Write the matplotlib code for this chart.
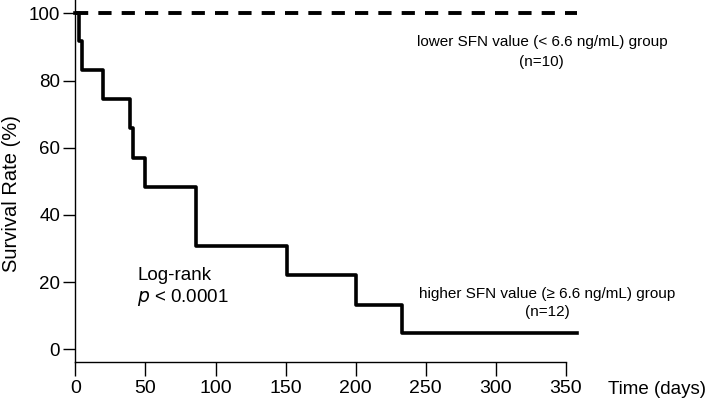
import matplotlib
matplotlib.use("Agg")
import matplotlib.pyplot as plt

plt.rcParams['font.family'] = ['Liberation Sans', 'DejaVu Sans']

# higher SFN group (n=12): step times (days) and survival after each step (%)
high_times = [0, 2.5, 4.5, 20, 39, 41, 50, 86, 151, 200, 233, 358]
high_surv = [100, 91.7, 83.3, 74.5, 65.8, 57.0, 48.3, 30.8, 22.0, 13.3, 4.8, 4.8]

# lower SFN group (n=10): no events
low_times = [0, 358]
low_surv = [100, 100]

xticks = [0, 50, 100, 150, 200, 250, 300, 350]
yticks = [0, 20, 40, 60, 80, 100]

fig = plt.figure(figsize=(7.08, 3.99), dpi=100)
ax = fig.add_axes([0.1066, 0.0927, 0.722, 0.9073])

ax.step(low_times, low_surv, where='post', color='black', lw=2.8,
        linestyle=(0, (3.4, 2.6)), solid_capstyle='butt', clip_on=False)
ax.step(high_times, high_surv, where='post', color='black', lw=2.6,
        clip_on=False)

ax.set_xlim(0, 365)
ax.set_ylim(-3.8, 104)
ax.spines['top'].set_visible(False)
ax.spines['right'].set_visible(False)
ax.spines['bottom'].set_bounds(0, 350)
for s in ['left', 'bottom']:
    ax.spines[s].set_linewidth(1.0)

ax.set_xticks(xticks)
ax.set_yticks(yticks)
ax.tick_params(axis='x', length=10, width=1.0, labelsize=14, pad=3)
ax.tick_params(axis='y', length=9, width=1.0, labelsize=13.5, pad=2)

fig.text(0.016, 0.514, 'Survival Rate (%)', fontsize=14.5, rotation=90,
         ha='center', va='center')
fig.text(0.859, 0.013, 'Time (days)', fontsize=13.5, ha='left', va='baseline')

ax.text(333, 88.5, 'lower SFN value (< 6.6 ng/mL) group\n(n=10)', fontsize=11,
        ha='center', va='center', linespacing=1.5)
ax.text(337, 13.8, 'higher SFN value (\u2265 6.6 ng/mL) group\n(n=12)',
        fontsize=11, ha='center', va='center', linespacing=1.3)
ax.text(44, 18.5, 'Log-rank\n$\\it{p}$ < 0.0001', fontsize=13.5,
        ha='left', va='center', linespacing=1.2)

fig.savefig('out.png', dpi=100)
